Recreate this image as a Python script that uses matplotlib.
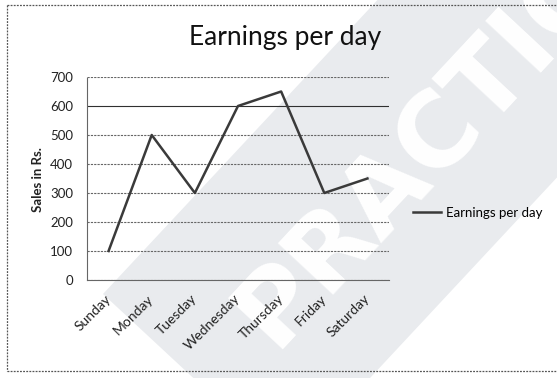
import matplotlib
matplotlib.use("Agg")
import matplotlib.pyplot as plt
from matplotlib.patches import Polygon
from matplotlib.lines import Line2D


days = ["Sunday", "Monday", "Tuesday", "Wednesday", "Thursday", "Friday", "Saturday"]
earnings = [100, 500, 300, 600, 650, 300, 350]
y_ticks = [0, 100, 200, 300, 400, 500, 600, 700]

W, H = 557, 378


def px(x, y):
    # pixel position (origin top left) -> figure fraction
    return (x / W, 1 - y / H)


plt.rcParams["font.family"] = ["Lato", "DejaVu Sans"]

fig = plt.figure(figsize=(W / 100, H / 100), dpi=100)

# diagonal watermark band with the word cut out in white
band = Polygon([px(103, 294), px(288, 466), px(852, -139), px(650, -292)],
               closed=True, transform=fig.transFigure,
               facecolor="#e9ebee", edgecolor="none", zorder=0)
fig.add_artist(band)
wm = fig.text(*px(445, 124), "PRACTICE", rotation=47, ha="center", va="center",
              fontsize=74, fontweight="bold", color="white", family="DejaVu Sans")
wm.set_zorder(0.5)

# chart border
border = dict(color="#555555", lw=0.9, linestyle=(0, (1.5, 1)), transform=fig.transFigure)
fig.add_artist(Line2D([px(7, 0)[0], 1], [px(0, 5)[1]] * 2, **border))
fig.add_artist(Line2D([px(7, 0)[0]] * 2, [px(0, 5)[1], px(0, 371)[1]], **border))
fig.add_artist(Line2D([px(7, 0)[0], 1], [px(0, 371)[1]] * 2, **border))

ax = fig.add_axes([87 / W, 1 - 280 / H, (389 - 87) / W, (280 - 77) / H])
ax.set_zorder(2)
ax.patch.set_alpha(0)

ax.plot(range(len(days)), earnings, color="#3a3a3a", lw=1.8, label="Earnings per day")

ax.set_xlim(-0.5, len(days) - 0.5)
ax.set_ylim(0, 700)
ax.set_yticks(y_ticks)
ax.set_xticks(range(len(days)))
ax.set_xticklabels(days, rotation=45, ha="right", va="center", rotation_mode="anchor")

ax.grid(axis="y", color="#666666", lw=0.8, linestyle=(0, (2, 1)))
ax.get_ygridlines()[6].set_color("#303030")
ax.get_ygridlines()[6].set_linestyle("-")
ax.set_axisbelow(True)

for side in ["top", "right"]:
    ax.spines[side].set_visible(False)
for side in ["left", "bottom"]:
    ax.spines[side].set_color("#666666")
    ax.spines[side].set_linewidth(0.8)
    ax.spines[side].set_linestyle((0, (2, 1)))

ax.tick_params(axis="both", length=0, labelcolor="#222222")
ax.tick_params(axis="y", pad=10, labelsize=9.5)
ax.tick_params(axis="x", pad=12, labelsize=10)

fig.text(*px(38, 180), "Sales in Rs.", rotation=90, ha="center", va="center",
         fontsize=9.5, fontweight="bold", color="#222222")
fig.text(*px(285, 38), "Earnings per day", ha="center", va="center",
         fontsize=19, color="#111111")

ax.legend(loc="center left", bbox_to_anchor=px(413, 213), bbox_transform=fig.transFigure,
          frameon=False, fontsize=9.5, handlelength=2.1, handletextpad=0.4,
          borderpad=0, borderaxespad=0)

fig.savefig("out.png", dpi=100)
